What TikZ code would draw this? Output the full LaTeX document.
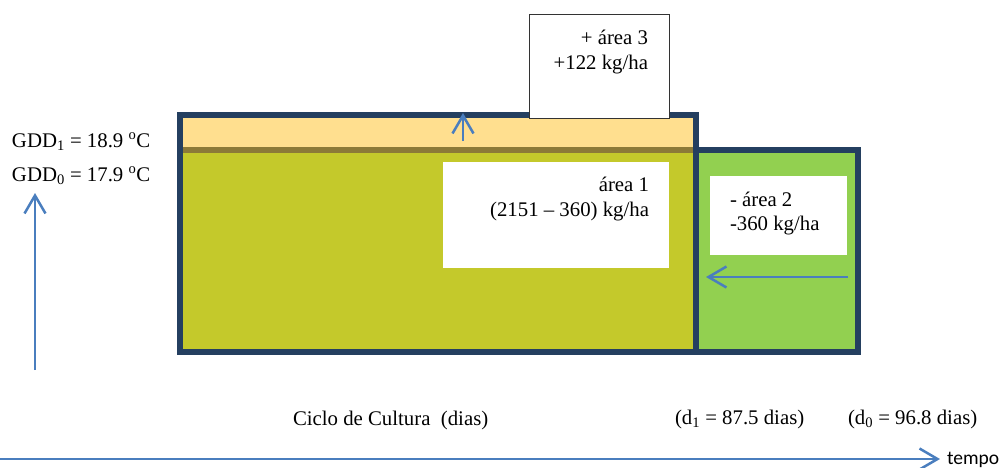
\documentclass[tikz,border=0pt]{standalone}
\usepackage{fontspec}
\setmainfont{Liberation Serif}
\newfontfamily\tempofont{Carlito}
\usetikzlibrary{arrows.meta}
\definecolor{navy}{HTML}{243F60}
\definecolor{bandyellow}{HTML}{FFDF8F}
\definecolor{oliveline}{HTML}{8C7A38}
\definecolor{olivefill}{HTML}{C4C92B}
\definecolor{greenfill}{HTML}{92D050}
\definecolor{arrowblue}{HTML}{4A7EBE}
\tikzset{
  frame/.style={draw=navy, line width=5.5pt},
  bluearrow/.style={draw=arrowblue, line width=2.5pt, -{Straight Barb[length=18pt,width=21pt,line width=2.5pt]}},
  whitebox/.style={fill=white, draw=none},
  txt/.style={font=\fontsize{20.8}{25}\selectfont, inner sep=0pt, outer sep=0pt},
}
\begin{document}
\begin{tikzpicture}[x=1pt,y=-1pt]
\useasboundingbox (0,0) rectangle (1005,467);
% fills
\fill[bandyellow] (180,115) rectangle (696,150);
\fill[olivefill] (180,150) rectangle (696,352);
\fill[greenfill] (696,150) rectangle (858,352);
\draw[oliveline, line width=5.5pt] (183,150) -- (693,150);
% frames
\draw[frame] (180,115) rectangle (696,352);
\draw[frame] (696,150) rectangle (858,352);
% area boxes
\node[whitebox, draw=black!80, line width=1pt, minimum width=140pt, minimum height=104pt, anchor=north west, inner sep=0pt] (b3) at (529,14) {};
\node[whitebox, minimum width=226pt, minimum height=106pt, anchor=north west, inner sep=0pt] (b1) at (443,162) {};
\node[whitebox, minimum width=137pt, minimum height=79pt, anchor=north west, inner sep=0pt] (b2) at (710,176) {};
% texts in boxes
\node[txt, anchor=base east] (t3a) at (648,44) {+ área 3};
\node[txt, anchor=base east] (t3b) at (648,69) {+122 kg/ha};
\node[txt, anchor=base east] (t1a) at (649,191) {área 1};
\node[txt, anchor=base east] (t1b) at (649,216) {(2151 – 360) kg/ha};
\node[txt, anchor=base west] (t2a) at (730,206) {- área 2};
\node[txt, anchor=base west] (t2b) at (730,230) {-360 kg/ha};
% arrows inside
\coordinate (upS) at (463,141);
\coordinate (upE) at (463,113);
\draw[bluearrow] (upS) -- (upE);
\coordinate (lS) at (848,277);
\coordinate (lE) at (706,277);
\draw[bluearrow] (lS) -- (lE);
% axes
\coordinate (yS) at (35,370);
\coordinate (yE) at (35,193);
\draw[bluearrow] (yS) -- (yE);
\coordinate (xS) at (0,459);
\coordinate (xE) at (940,459);
\draw[bluearrow] (xS) -- (xE);
% labels
\node[txt, anchor=base west] (g1) at (12,147) {GDD\textsubscript{1} = 18.9 \textsuperscript{o}C};
\node[txt, anchor=base west] (g0) at (12,181) {GDD\textsubscript{0} = 17.9 \textsuperscript{o}C};
\node[txt, anchor=base west] (ciclo) at (293,425) {Ciclo de Cultura\ \ (dias)};
\node[txt, anchor=base west] (d1) at (675,424) {(d\textsubscript{1} = 87.5 dias)};
\node[txt, anchor=base west] (d0) at (848,424) {(d\textsubscript{0} = 96.8 dias)};
\node[txt, anchor=base west, font=\tempofont\fontsize{19.5}{23}\selectfont] (tempo) at (947,464) {tempo};
\end{tikzpicture}
\end{document}
